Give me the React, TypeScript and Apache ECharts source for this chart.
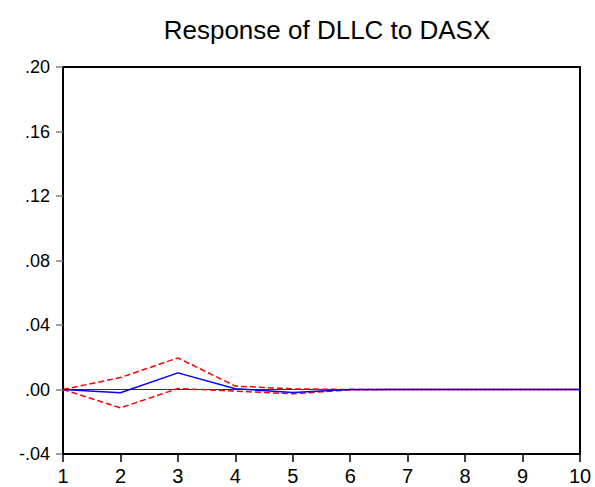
import React, { useEffect, useRef } from "react";
import * as echarts from "echarts";

const periods = [1, 2, 3, 4, 5, 6, 7, 8, 9, 10];
const response = [0, -0.002, 0.0103, 0.0005, -0.0018, 0, 0, 0, 0, 0];
const upperBand = [0, 0.0074, 0.0196, 0.0021, 0.0004, 0, 0, 0, 0, 0];
const lowerBand = [0, -0.0114, 0.0006, -0.001, -0.0027, -0.0002, 0, 0, 0, 0];
const zeroLine = [0, 0, 0, 0, 0, 0, 0, 0, 0, 0];
const titleText = "Response of DLLC to DASX";

const pairs = (ys: number[]) => periods.map((x, i) => [x, ys[i]]);

const fmt = (v: number) => {
  const s = v.toFixed(2);
  return s.replace(/^(-?)0\./, "$1.");
};

const FONT = "Liberation Sans, Arial, sans-serif";

export default function App() {
  const ref = useRef<HTMLDivElement>(null);
  useEffect(() => {
    if (!ref.current) return;
    const chart = echarts.init(ref.current, undefined, { renderer: "svg" });
    chart.setOption({
      animation: false,
      backgroundColor: "#fff",
      textStyle: { fontFamily: FONT },
      title: {
        text: titleText,
        left: 322,
        textAlign: "center",
        top: 12,
        textStyle: {
          fontFamily: FONT,
          fontSize: 26,
          fontWeight: "normal",
          color: "#000",
        },
      },
      grid: {
        left: 63,
        right: 15,
        top: 67,
        bottom: 33,
        show: true,
        borderColor: "#000",
        borderWidth: 2,
        backgroundColor: "transparent",
      },
      xAxis: {
        type: "value",
        min: 1,
        max: 10,
        interval: 1,
        axisLine: { show: true, onZero: false, lineStyle: { color: "#000", width: 2 } },
        axisTick: { show: true, length: 8, lineStyle: { color: "#000", width: 1.5 } },
        axisLabel: {
          color: "#000",
          fontSize: 20,
          margin: 12,
          fontFamily: FONT,
        },
        splitLine: { show: false },
      },
      yAxis: {
        type: "value",
        min: -0.04,
        max: 0.2,
        interval: 0.04,
        axisLine: { show: true, onZero: false, lineStyle: { color: "#000", width: 2 } },
        axisTick: { show: true, length: 7, lineStyle: { color: "#808080", width: 1.5 } },
        axisLabel: {
          color: "#000",
          fontSize: 18,
          margin: 13,
          verticalAlign: "middle",
          padding: [0, 0, 5, 0],
          formatter: (v: number) => fmt(v),
          fontFamily: FONT,
        },
        splitLine: { show: false },
      },
      series: [
        {
          type: "line",
          data: pairs(zeroLine),
          symbol: "none",
          lineStyle: { color: "#333", width: 1 },
          z: 1,
        },
        {
          type: "line",
          data: pairs(upperBand),
          symbol: "none",
          lineStyle: { color: "#ff0000", width: 1.5, type: [6, 3] },
          z: 2,
        },
        {
          type: "line",
          data: pairs(lowerBand),
          symbol: "none",
          lineStyle: { color: "#ff0000", width: 1.5, type: [6, 3] },
          z: 2,
        },
        {
          type: "line",
          data: pairs(response),
          symbol: "none",
          lineStyle: { color: "#0000ff", width: 1.5 },
          z: 3,
        },
      ],
    });
    return () => chart.dispose();
  }, []);
  return <div ref={ref} style={{ width: 595, height: 487, position: "absolute", left: 0, top: 0 }} />;
}
